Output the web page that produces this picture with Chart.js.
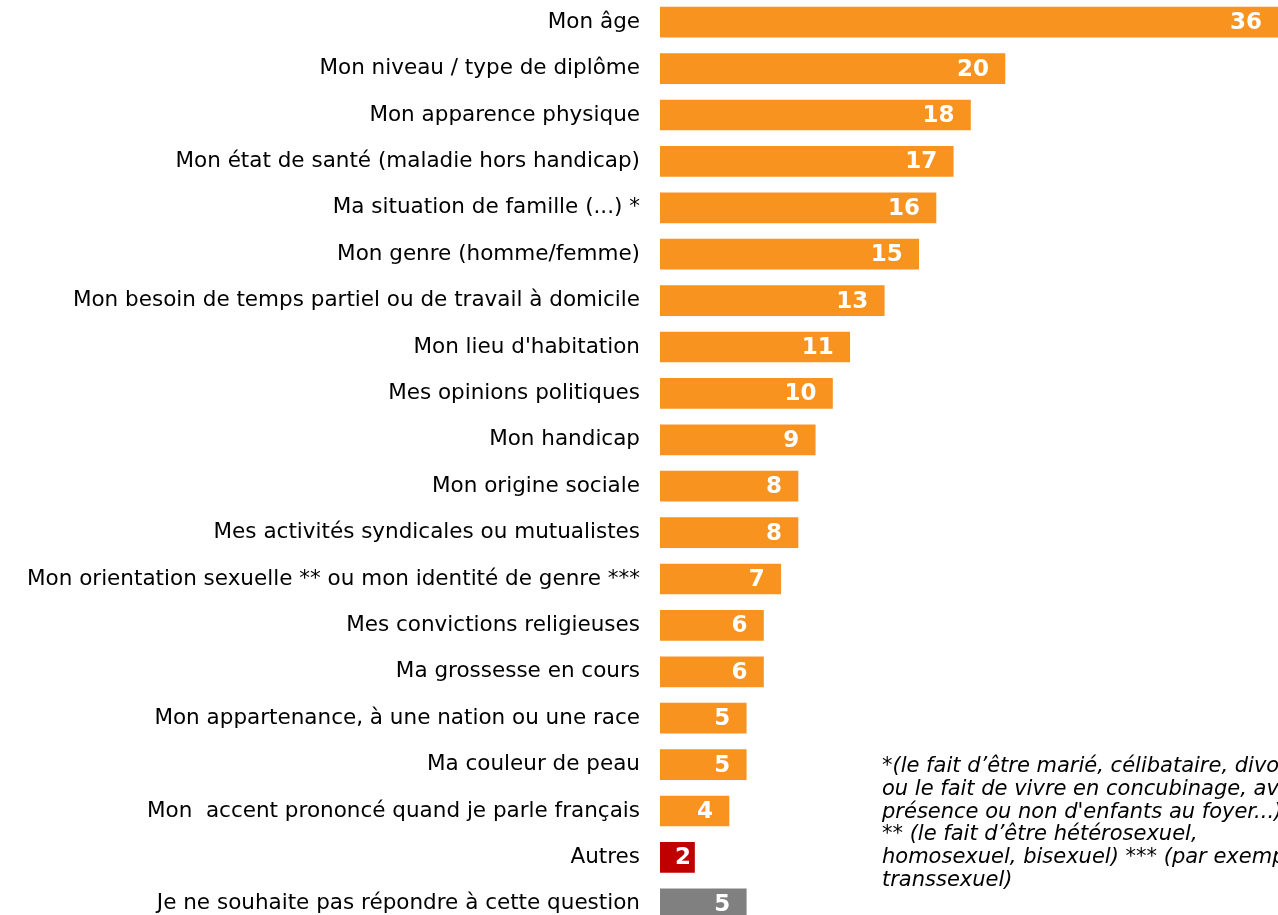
<!DOCTYPE html>
<html lang="fr">
<head>
  <meta charset="UTF-8" />
  <title>Discriminations</title>
  <script src="https://cdn.jsdelivr.net/npm/chart.js"></script>
  <style>
    html, body { margin: 0; padding: 0; background: #fff; overflow: hidden; }
    body { width: 1278px; height: 915px; position: relative; }
    #chart { position: absolute; left: 0; top: -1px; }
    .note {
      position: absolute; left: 882px; top: 754px;
      font-family: "DejaVu Sans", Verdana, sans-serif; font-style: italic;
      font-size: 21px; line-height: 22.8px; color: #000; white-space: pre;
    }
  </style>
</head>
<body>
  <canvas id="chart" width="1278" height="928"></canvas>
  <div class="note">*(le fait d’être marié, célibataire, divorcé,
ou le fait de vivre en concubinage, avec la
présence ou non d'enfants au foyer...)
** (le fait d’être hétérosexuel,
homosexuel, bisexuel) *** (par exemple
transsexuel)</div>

  <script>
    const labels = [
      'Mon âge',
      'Mon niveau / type de diplôme',
      'Mon apparence physique',
      'Mon état de santé (maladie hors handicap)',
      'Ma situation de famille (...) *',
      'Mon genre (homme/femme)',
      'Mon besoin de temps partiel ou de travail à domicile',
      "Mon lieu d'habitation",
      'Mes opinions politiques',
      'Mon handicap',
      'Mon origine sociale',
      'Mes activités syndicales ou mutualistes',
      'Mon orientation sexuelle ** ou mon identité de genre ***',
      'Mes convictions religieuses',
      'Ma grossesse en cours',
      'Mon appartenance, à une nation ou une race',
      'Ma couleur de peau',
      'Mon  accent prononcé quand je parle français',
      'Autres',
      'Je ne souhaite pas répondre à cette question'
    ];
    const values = [36, 20, 18, 17, 16, 15, 13, 11, 10, 9, 8, 8, 7, 6, 6, 5, 5, 4, 2, 5];
    const barColors = labels.map((l, i) =>
      i === 18 ? '#C00000' : (i === 19 ? '#808080' : '#F7931E'));

    // valeurs en blanc à l'intérieur des barres
    const valueLabels = {
      id: 'valueLabels',
      afterDatasetsDraw(chart) {
        const ctx = chart.ctx;
        const area = chart.chartArea;
        const meta = chart.getDatasetMeta(0);
        ctx.save();
        ctx.font = 'bold 23px "DejaVu Sans", Verdana, sans-serif';
        ctx.fillStyle = '#fff';
        ctx.textBaseline = 'middle';
        ctx.textAlign = 'left';
        meta.data.forEach((bar, i) => {
          const txt = String(values[i]);
          const w = ctx.measureText(txt).width;
          const end = Math.min(bar.x, area.right);
          let x = end - 16 - w;
          if (x < bar.base + 15) x = bar.base + 15;
          ctx.fillText(txt, x, bar.y + 1);
        });
        ctx.restore();
      }
    };

    new Chart(document.getElementById('chart'), {
      type: 'bar',
      data: {
        labels,
        datasets: [{ data: values, backgroundColor: barColors, barThickness: 30 }]
      },
      options: {
        indexAxis: 'y',
        responsive: false,
        animation: false,
        devicePixelRatio: 1,
        layout: { padding: 0 },
        plugins: { legend: { display: false }, tooltip: { enabled: false } },
        scales: {
          x: {
            display: false,
            min: 0,
            max: 35.83
          },
          y: {
            grid: { display: false, drawTicks: false },
            border: { display: false },
            afterFit(scale) {
              scale.width = 660;
              scale.paddingTop = 0;
              scale.paddingBottom = 0;
            },
            ticks: {
              padding: 20,
              color: '#000',
              font: { family: '"DejaVu Sans", Verdana, sans-serif', size: 21.5 }
            }
          }
        }
      },
      plugins: [valueLabels]
    });
  </script>
</body>
</html>
